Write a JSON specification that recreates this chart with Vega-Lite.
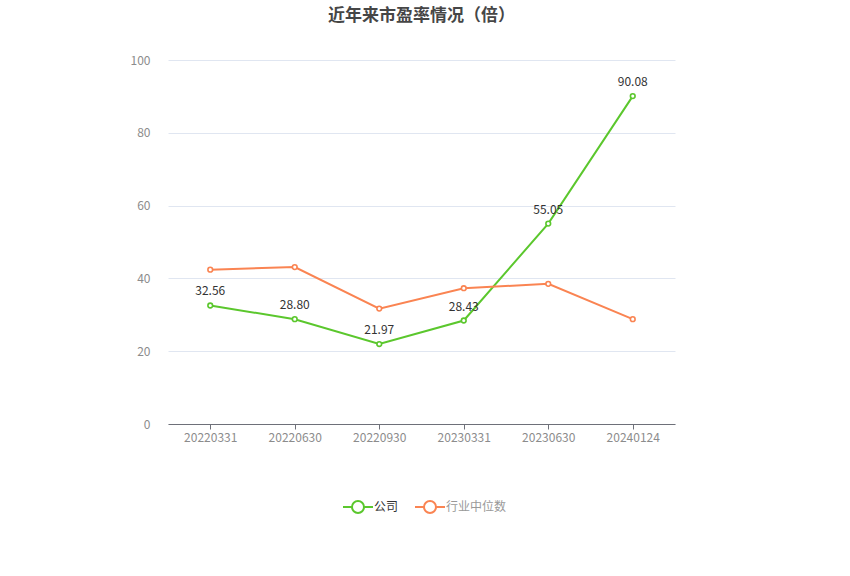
{
  "$schema": "https://vega.github.io/schema/vega-lite/v6.json",
  "autosize": "none",
  "width": 507,
  "height": 364,
  "padding": {"left": 168, "top": 60, "right": 175, "bottom": 152},
  "background": "white",
  "title": {
    "text": "近年来市盈率情况（倍）",
    "anchor": "middle",
    "offset": 29,
    "fontSize": 17,
    "fontWeight": "bold",
    "color": "#464646",
    "font": "Noto Sans CJK SC"
  },
  "data": {
    "values": [
      {"date": "20220331", "series": "公司", "value": 32.56},
      {"date": "20220630", "series": "公司", "value": 28.80},
      {"date": "20220930", "series": "公司", "value": 21.97},
      {"date": "20230331", "series": "公司", "value": 28.43},
      {"date": "20230630", "series": "公司", "value": 55.05},
      {"date": "20240124", "series": "公司", "value": 90.08},
      {"date": "20220331", "series": "行业中位数", "value": 42.4},
      {"date": "20220630", "series": "行业中位数", "value": 43.1},
      {"date": "20220930", "series": "行业中位数", "value": 31.7},
      {"date": "20230331", "series": "行业中位数", "value": 37.3},
      {"date": "20230630", "series": "行业中位数", "value": 38.5},
      {"date": "20240124", "series": "行业中位数", "value": 28.8}
    ]
  },
  "config": {
    "view": {"stroke": null},
    "font": "Noto Sans CJK SC",
    "legend": {
      "orient": "none",
      "legendX": 179,
      "legendY": 436,
      "direction": "horizontal",
      "labelFontSize": 12,
      "labelOffset": 5,
      "symbolType": "M-1.5,0L-0.6,0M0.6,0L1.5,0M-0.6,0A0.6,0.6,0,1,1,0.6,0A0.6,0.6,0,1,1,-0.6,0",
      "symbolSize": 400,
      "symbolStrokeWidth": 2,
      "symbolOpacity": 1,
      "columnPadding": 12
    }
  },
  "encoding": {
    "x": {
      "field": "date",
      "type": "ordinal",
      "sort": null,
      "title": null,
      "axis": {
        "labelAngle": 0,
        "labelColor": "#8c8c8c",
        "labelFontSize": 12,
        "labelPadding": 3,
        "domainColor": "#6e7079",
        "tickColor": "#6e7079",
        "tickSize": 5,
        "grid": false
      }
    },
    "y": {
      "field": "value",
      "type": "quantitative",
      "title": null,
      "scale": {"domain": [0, 100]},
      "axis": {
        "values": [0, 20, 40, 60, 80, 100],
        "domain": false,
        "ticks": false,
        "labelColor": "#8c8c8c",
        "labelFontSize": 12,
        "labelPadding": 18,
        "gridColor": "#e0e6f1"
      }
    }
  },
  "layer": [
    {
      "mark": {"type": "line", "strokeWidth": 2},
      "encoding": {
        "color": {
          "field": "series",
          "type": "nominal",
          "scale": {"domain": ["公司", "行业中位数"], "range": ["#5bc72d", "#fa8452"]},
          "legend": {
            "title": null,
            "labelColor": {"expr": "datum.label == '公司' ? '#333333' : '#999999'"},
            "symbolFillColor": "white",
            "symbolStrokeColor": {"expr": "datum.label == '公司' ? '#5bc72d' : '#ffbba3'"}
          }
        }
      }
    },
    {
      "mark": {"type": "point", "shape": "circle", "filled": false, "fill": "white", "fillOpacity": 1, "size": 22, "strokeWidth": 1.6, "opacity": 1},
      "encoding": {
        "color": {
          "field": "series",
          "type": "nominal",
          "scale": {"domain": ["公司", "行业中位数"], "range": ["#5bc72d", "#fa8452"]},
          "legend": {
            "title": null,
            "labelColor": {"expr": "datum.label == '公司' ? '#333333' : '#999999'"},
            "symbolFillColor": "white",
            "symbolStrokeColor": {"expr": "datum.label == '公司' ? '#5bc72d' : '#ffbba3'"}
          }
        }
      }
    },
    {
      "transform": [{"filter": "datum.series == '公司'"}],
      "mark": {"type": "text", "dy": -7, "fontSize": 12, "baseline": "bottom"},
      "encoding": {
        "text": {"field": "value", "type": "quantitative", "format": ".2f"},
        "color": {"value": "#333333"}
      }
    }
  ]
}
